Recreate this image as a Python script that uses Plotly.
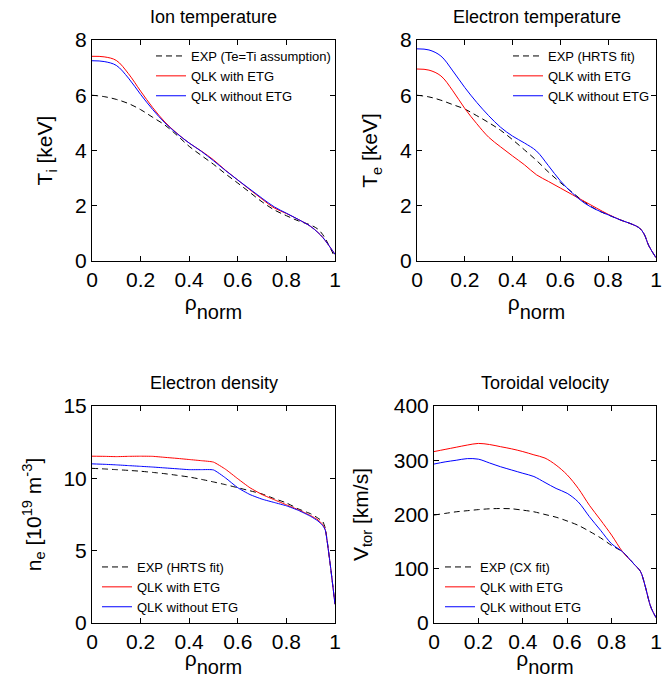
import plotly.graph_objects as go

# ---------------- data ----------------
rho_T = [0, 0.05, 0.1, 0.15, 0.2, 0.25, 0.3, 0.35, 0.4, 0.45, 0.5, 0.55, 0.6,
         0.65, 0.7, 0.75, 0.8, 0.85, 0.9, 0.93, 0.95, 0.97, 1.0]

ti_exp = [6.0, 5.95, 5.85, 5.7, 5.48, 5.2, 4.92, 4.55, 4.15, 3.82, 3.5, 3.15, 2.82,
          2.48, 2.14, 1.85, 1.64, 1.45, 1.3, 1.15, 0.95, 0.65, 0.12]
ti_etg = [7.41, 7.39, 7.26, 6.78, 6.15, 5.55, 5.03, 4.62, 4.27, 3.98, 3.66, 3.28, 2.93,
          2.58, 2.24, 1.92, 1.72, 1.50, 1.25, 1.03, 0.85, 0.62, 0.24]
ti_noetg = [7.25, 7.22, 7.08, 6.62, 6.03, 5.48, 5.0, 4.61, 4.27, 3.97, 3.63, 3.27, 2.93,
            2.6, 2.27, 1.96, 1.73, 1.50, 1.25, 1.03, 0.85, 0.62, 0.24]

te_exp = [6.0, 5.94, 5.82, 5.66, 5.5, 5.26, 5.01, 4.73, 4.39, 4.02, 3.64, 3.22, 2.84,
          2.48, 2.14, 1.86, 1.67, 1.49, 1.33, 1.2, 0.98, 0.55, 0.12]
te_etg = [6.95, 6.91, 6.70, 6.16, 5.52, 4.97, 4.48, 4.13, 3.8, 3.48, 3.12, 2.88, 2.64,
          2.4, 2.16, 1.92, 1.69, 1.49, 1.33, 1.2, 0.98, 0.55, 0.12]
te_noetg = [7.68, 7.64, 7.42, 6.88, 6.28, 5.74, 5.26, 4.84, 4.52, 4.27, 3.98, 3.45, 2.9,
            2.46, 2.1, 1.86, 1.67, 1.49, 1.33, 1.2, 0.98, 0.55, 0.12]

rho_n = [0, 0.05, 0.1, 0.15, 0.2, 0.25, 0.3, 0.35, 0.4, 0.45, 0.5, 0.55, 0.6,
         0.65, 0.7, 0.75, 0.8, 0.85, 0.9, 0.93, 0.95, 0.96, 0.98, 1.0]
ne_exp = [10.69, 10.65, 10.6, 10.55, 10.49, 10.41, 10.32, 10.21, 10.09, 9.93, 9.75, 9.56,
          9.35, 9.14, 8.92, 8.6, 8.3, 7.88, 7.55, 7.25, 7.0, 6.55, 4.1, 1.3]
ne_etg = [11.53, 11.52, 11.5, 11.52, 11.53, 11.52, 11.45, 11.38, 11.3, 11.22, 11.12, 10.62,
          9.97, 9.35, 8.88, 8.52, 8.17, 7.82, 7.42, 7.13, 6.8, 6.45, 4.1, 1.3]
ne_noetg = [11.0, 10.97, 10.93, 10.88, 10.83, 10.78, 10.72, 10.66, 10.6, 10.6, 10.58, 10.02,
            9.35, 8.88, 8.56, 8.33, 8.1, 7.78, 7.37, 7.05, 6.72, 6.42, 4.1, 1.3]

rho_v = [0, 0.05, 0.1, 0.15, 0.2, 0.25, 0.3, 0.35, 0.4, 0.45, 0.5, 0.55, 0.6,
         0.65, 0.7, 0.75, 0.8, 0.85, 0.9, 0.93, 0.95, 0.97, 0.98, 1.0]
v_exp = [199, 202, 205, 207, 209, 210.5, 211, 210.5, 208, 205, 200, 195, 188,
         180, 169, 157, 143, 131, 109, 95, 70, 38, 26, 10]
v_etg = [316, 320, 324, 328, 331, 329, 325, 321, 316, 310, 304, 291, 273,
         248, 217, 190, 162, 131, 109, 95, 70, 38, 26, 10]
v_noetg = [293, 297, 300, 303, 302, 295, 288, 282, 276, 270, 259, 248, 239,
           223, 196, 171, 146, 131, 109, 95, 70, 38, 26, 10]

titles = ["Ion temperature", "Electron temperature", "Electron density", "Toroidal velocity"]
ylabels = ["T<sub>i</sub> [keV]", "T<sub>e</sub> [keV]",
           "n<sub>e</sub> [10<sup>19</sup> m<sup>-3</sup>]", "V<sub>tor</sub> [km/s]"]
xlabel = "ρ<sub><span style='font-size:20px;baseline-shift:-4px'>norm</span></sub>"
exp_names = ["EXP (Te=Ti assumption)", "EXP (HRTS fit)", "EXP (HRTS fit)", "EXP (CX fit)"]
sim_names = ["QLK with ETG", "QLK without ETG"]
x_ticks = [0, 0.2, 0.4, 0.6, 0.8, 1]
x_ticklabels = ["0", "0.2", "0.4", "0.6", "0.8", "1"]
y_ticks = [[0, 2, 4, 6, 8], [0, 2, 4, 6, 8], [0, 5, 10, 15], [0, 100, 200, 300, 400]]
y_ranges = [[0, 8], [0, 8], [0, 15], [0, 400]]

panels = [
    (rho_T, ti_exp, ti_etg, ti_noetg),
    (rho_T, te_exp, te_etg, te_noetg),
    (rho_n, ne_exp, ne_etg, ne_noetg),
    (rho_v, v_exp, v_etg, v_noetg),
]

# ---------------- layout geometry ----------------
W, H = 670, 678
boxes = [(92, 335, 40, 261), (417, 656, 40, 261), (92, 335, 406, 623), (434, 656, 406, 623)]
ystandoff = [16, 16, 16, 19]
smooth = [1.0, 1.0, 0.5, 0.9]
legend_pos = [
    dict(x=336 / W, y=1 - 41 / H, xanchor="right", yanchor="top"),
    dict(x=655 / W, y=1 - 41 / H, xanchor="right", yanchor="top"),
    dict(x=97 / W, y=1 - 622 / H, xanchor="left", yanchor="bottom"),
    dict(x=440 / W, y=1 - 622 / H, xanchor="left", yanchor="bottom"),
]

FONT = "Liberation Sans, Arial, sans-serif"
fig = go.Figure()
layout = dict(width=W, height=H, margin=dict(l=0, r=0, t=0, b=0),
              paper_bgcolor="white", plot_bgcolor="white",
              font=dict(family=FONT, color="black"), annotations=[])

for i, (rho, ex, e1, e2) in enumerate(panels):
    n = i + 1
    xa = "x" if n == 1 else f"x{n}"
    ya = "y" if n == 1 else f"y{n}"
    lg = "legend" if n == 1 else f"legend{n}"
    sm = smooth[i]
    fig.add_trace(go.Scatter(x=rho, y=ex, mode="lines", name=exp_names[i],
                             line=dict(color="black", width=1, dash="6px,4px", shape="spline", smoothing=sm),
                             xaxis=xa, yaxis=ya, legend=lg))
    fig.add_trace(go.Scatter(x=rho, y=e1, mode="lines", name=sim_names[0],
                             line=dict(color="#ff0000", width=1, shape="spline", smoothing=sm),
                             xaxis=xa, yaxis=ya, legend=lg))
    fig.add_trace(go.Scatter(x=rho, y=e2, mode="lines", name=sim_names[1],
                             line=dict(color="#0000ff", width=1, shape="spline", smoothing=sm),
                             xaxis=xa, yaxis=ya, legend=lg))
    l, r, t, b = boxes[i]
    common = dict(showline=True, linecolor="black", linewidth=1, mirror="ticks",
                  ticks="inside", ticklen=5, tickcolor="black", showgrid=False,
                  zeroline=False, tickfont=dict(size=21, family=FONT), automargin=False)
    layout["xaxis" if n == 1 else f"xaxis{n}"] = dict(
        domain=[l / W, r / W], range=[0, 1], tickvals=x_ticks, ticktext=x_ticklabels,
        anchor=ya, title=dict(text=xlabel, font=dict(size=21), standoff=0), **common)
    layout["yaxis" if n == 1 else f"yaxis{n}"] = dict(
        domain=[1 - b / H, 1 - t / H], range=y_ranges[i], tickvals=y_ticks[i],
        anchor=xa, title=dict(text=ylabels[i], font=dict(size=21), standoff=ystandoff[i]), **common)
    layout[lg] = dict(bgcolor="rgba(0,0,0,0)", borderwidth=0, font=dict(size=13, family=FONT),
                      tracegroupgap=0, itemwidth=30, **legend_pos[i])
    layout["annotations"].append(dict(text=titles[i], x=(l + r) / 2 / W, y=1 - (t - 23) / H,
                                      xref="paper", yref="paper", xanchor="center", yanchor="middle",
                                      showarrow=False, font=dict(size=18, family=FONT)))

fig.update_layout(**layout)
fig.write_html("out.html", config={"displayModeBar": False},
               post_script="document.body.style.margin='0px';document.body.style.overflow='hidden';")
